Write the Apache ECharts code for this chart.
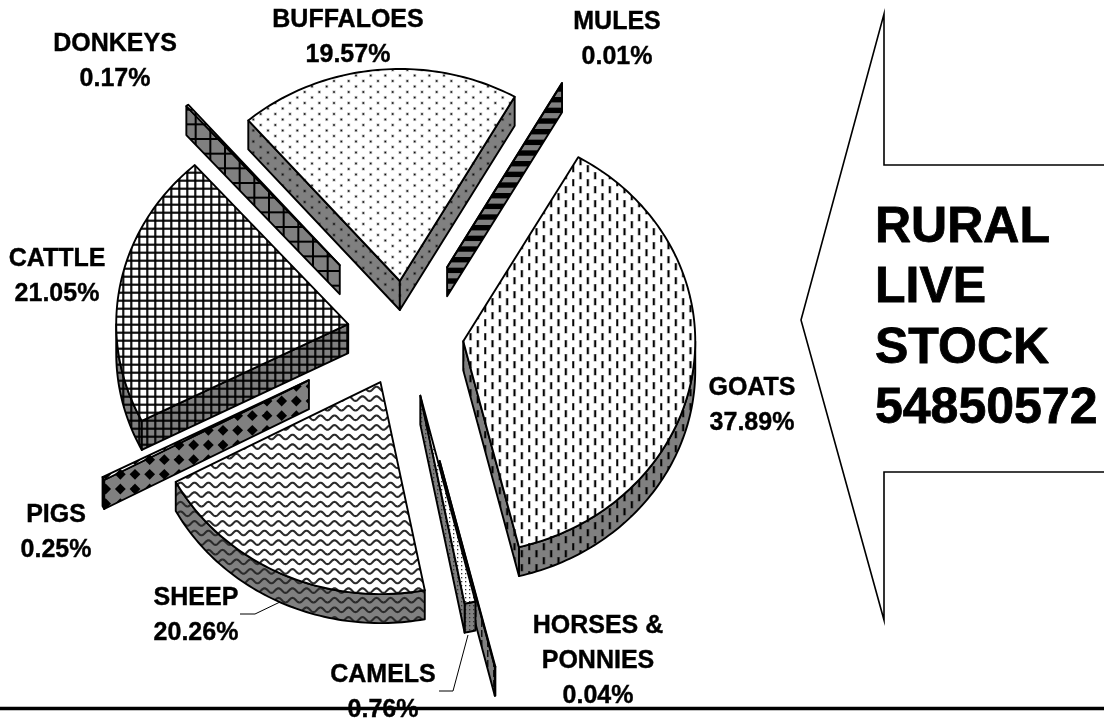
<!DOCTYPE html>
<html>
<head>
<meta charset="utf-8">
<style>html,body{margin:0;padding:0;background:#fff}#c{width:1104px;height:721px}</style>
<script src="https://cdn.jsdelivr.net/npm/echarts@6/dist/echarts.min.js"></script>
</head>
<body>
<div id="c"></div>
<script>
// ---- data ----
const categories = ['GOATS','HORSES & PONNIES','CAMELS','SHEEP','PIGS','CATTLE','DONKEYS','BUFFALOES','MULES'];
const shares = [37.89,0.04,0.76,20.26,0.25,21.05,0.17,19.57,0.01];
const titleLines = ['RURAL','LIVE','STOCK','54850572'];

// ---- layout ----
const explodePx = [58.3,143,69,58.3,109,58.3,100,58.3,84];
const labelCenters = [[752,405],[598,660.5],[383,692],[196,614.5],[56,532],[57,275.5],[115,61],[348,37],[617,39]];
const CX=405.5, CY=334, RX=232, RY=212, DEPTH=29, START=-60.3;
const FONT='bold 25px "Liberation Sans", Arial, sans-serif';

function tile(w,h,bg,draw){
  const c=document.createElement('canvas');c.width=w;c.height=h;
  const g=c.getContext('2d');g.fillStyle=bg;g.fillRect(0,0,w,h);
  g.fillStyle='#000';g.strokeStyle='#000';draw(g,w,h);
  return {image:c,repeat:'repeat'};
}
const painters=[
  // goats: staggered dashes
  {w:44,h:14,d(g){
    for(let k=0;k<6;k++){
      const x=1.17+7.333*k, y=(k%2)?4:11;
      for(const yy of [y-14,y,y+14]){
        g.fillStyle='rgba(0,0,0,0.35)';g.fillRect(x-1.6,yy,3.2,7.4);
        g.fillStyle='#000';g.fillRect(x-0.8,yy+0.3,1.6,6.8);
      }
    }}},
  // horses: narrow vertical bars
  {w:6,h:10,d(g){g.fillStyle='#111';g.fillRect(1,0,1.5,7);}},
  // camels: fine dots
  {w:4,h:4,d(g){g.fillStyle='#333';g.fillRect(1,1,1.3,1.3);}},
  // sheep: waves
  {w:14,h:48,d(g){
    g.lineWidth=2.1;g.strokeStyle='#2a2a2a';
    for(let r=-1;r<6;r++){
      const y=r*9.6+5;g.beginPath();
      for(let x=-1;x<=15;x+=0.5){
        const yy=y+2.3*Math.sin((x-2)/14*2*Math.PI);
        x===-1?g.moveTo(x,yy):g.lineTo(x,yy);
      }
      g.stroke();
    }}},
  // pigs: diamonds on a square lattice
  {w:44,h:44,d(g){
    for(let i=-1;i<5;i++)for(let j=-1;j<5;j++){
      const x=i*14.667+3, y=j*14.667+5;
      g.beginPath();g.moveTo(x,y-5.4);g.lineTo(x+5.4,y);g.lineTo(x,y+5.4);g.lineTo(x-5.4,y);g.closePath();g.fill();
    }}},
  // cattle: fine grid
  {w:8,h:8,d(g){
    g.fillStyle='#000';
    g.globalAlpha=0.92;g.fillRect(2.2,0,2.2,8);g.fillRect(0,3.6,8,2.2);g.globalAlpha=1;}},
  // donkeys: coarse grid
  {w:44,h:44,d(g){
    g.fillStyle='#000';
    for(let k=0;k<3;k++){g.fillRect(k*14.667+4,0,2,44);g.fillRect(0,k*14.667+6,44,2);}}},
  // buffaloes: staggered dots
  {w:44,h:11,d(g){
    for(let k=0;k<6;k++){
      const x=4+7.333*k,y=(k%2)?4:9.5;
      for(const yy of [y-11,y,y+11]){
        g.fillStyle='rgba(0,0,0,0.22)';g.fillRect(x-1.6,yy-1.6,3.2,3.2);
        g.fillStyle='#111';g.fillRect(x-0.8,yy-0.8,1.6,1.6);
      }
    }}},
  // mules: thick horizontal stripes
  {w:8,h:32,d(g){
    g.fillStyle='#000';for(let k=0;k<3;k++){g.fillRect(0,k*10.667+1,8,5.4);}}}
];
const topFill=painters.map(p=>tile(p.w,p.h,'#ffffff',p.d));
const sideFill=painters.map(p=>tile(p.w,p.h,'#808080',p.d));
const cumulative=[];shares.reduce((s,v,i)=>(cumulative[i]=s,s+v),0);
const total=shares.reduce((a,b)=>a+b,0);

function renderSlice(params,api){
  const i=params.dataIndex, v=api.value(0);
  const a0=(START+cumulative[i]/total*360)*Math.PI/180;
  const a1=a0+v/total*2*Math.PI, mid=(a0+a1)/2;
  const ax=CX+explodePx[i]*Math.cos(mid), ay=CY+explodePx[i]*(RY/RX)*Math.sin(mid);
  const pt=t=>[ax+RX*Math.cos(t),ay+RY*Math.sin(t)];
  const sweep=(b0,b1)=>{const out=[];const n=Math.max(2,Math.ceil((b1-b0)/0.02));
    for(let k=0;k<=n;k++)out.push(pt(b0+(b1-b0)*k/n));return out;};
  const arc=sweep(a0,a1);
  const down=p=>[p[0],p[1]+DEPTH];
  const first=arc[0], last=arc[arc.length-1], apex=[ax,ay];
  const edge={stroke:'#000',lineWidth:1.9,lineJoin:'round'};
  const face=(pts,fill)=>({type:'polygon',shape:{points:pts},style:Object.assign({fill:fill},edge)});
  const children=[];
  // outer wall: only the stretch that faces the viewer (lower half of the ellipse)
  for(const off of [0,2*Math.PI]){
    const b0=Math.max(a0,off), b1=Math.min(a1,off+Math.PI);
    if(b1>b0){const w=sweep(b0,b1);children.push(face(w.concat(w.map(down).reverse()),sideFill[i]));}
  }
  // radial walls: only those that face the viewer
  if(Math.cos(a0)<0) children.push(face([apex,first,down(first),down(apex)],sideFill[i]));
  if(Math.cos(a1)>0) children.push(face([apex,last,down(last),down(apex)],sideFill[i]));
  children.push(face([apex].concat(arc),topFill[i]));
  return {type:'group',children};
}

const labelGraphics=categories.map((name,i)=>({
  type:'text',x:labelCenters[i][0],y:labelCenters[i][1]+1,z:50,
  style:{text:name.replace(' & ',' &\n')+'\n'+shares[i].toFixed(2)+'%',font:FONT,fill:'#000',
    stroke:'#000',lineWidth:0.4,align:'center',verticalAlign:'middle',lineHeight:35}
}));
const line=(pts,w)=>({type:'polyline',z:60,shape:{points:pts},style:{stroke:'#000',lineWidth:w,fill:null}});

const chart=echarts.init(document.getElementById('c'),null,{renderer:'canvas',width:1104,height:721});
chart.setOption({
  backgroundColor:'#ffffff',animation:false,
  series:[{type:'custom',coordinateSystem:'none',silent:true,renderItem:renderSlice,data:shares}],
  graphic:{elements:[
    ...labelGraphics,
    {type:'text',x:875,y:318.5,z:50,style:{text:titleLines.join('\n'),font:'bold 50px "Liberation Sans", Arial, sans-serif',
      fill:'#000',stroke:'#000',lineWidth:0.8,align:'left',verticalAlign:'middle',lineHeight:60.5}},
    {type:'polyline',z:40,shape:{points:[[1104,165],[884,165],[884,14],[801,320],[884,620],[884,472],[1104,472]]},
      style:{stroke:'#000',lineWidth:1.6,fill:null}},
    line([[240,614],[255,614],[280,602]],1),
    line([[439,691],[453,691],[468,635]],1),
    line([[0,708.5],[1104,708.5]],3.5)
  ]}
});
</script>
</body>
</html>
